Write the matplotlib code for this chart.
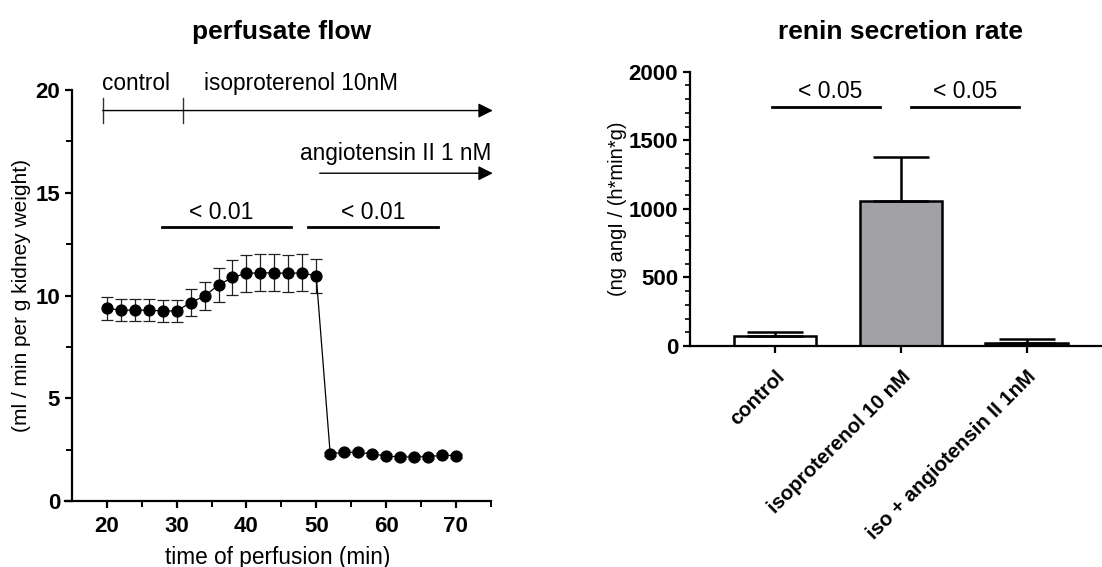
import numpy as np
import matplotlib.pyplot as plt

plt.rcParams['font.family'] = ['Liberation Sans', 'DejaVu Sans']

# perfusate flow time course
time_min = [20, 22, 24, 26, 28, 30, 32, 34, 36, 38, 40, 42, 44, 46, 48, 50,
            52, 54, 56, 58, 60, 62, 64, 66, 68, 70]
flow = [9.38, 9.29, 9.29, 9.29, 9.25, 9.25, 9.65, 9.98, 10.51, 10.88, 11.08, 11.1,
        11.1, 11.08, 11.1, 10.95, 2.30, 2.37, 2.37, 2.29, 2.19, 2.14, 2.14, 2.16,
        2.22, 2.21]
flow_err = [0.55, 0.55, 0.55, 0.55, 0.55, 0.55, 0.65, 0.7, 0.85, 0.85, 0.9, 0.9,
            0.9, 0.9, 0.9, 0.85, 0.1, 0.1, 0.1, 0.1, 0.1, 0.1, 0.1, 0.1, 0.1, 0.1]

# renin secretion rate
groups = ['control', 'isoproterenol 10 nM', 'iso + angiotensin II 1nM']
renin = [75, 1060, 25]
renin_err = [25, 315, 25]
bar_colors = ['white', '#a2a2a6', '#3c3c3c']

fig = plt.figure(figsize=(11.02, 5.67), dpi=100)

# ---- left panel
ax1 = fig.add_axes([65 / 1102, 1 - 501 / 567, 425.7 / 1102, 411 / 567])
ax1.errorbar(time_min, flow, yerr=flow_err, fmt='o-', color='black', ms=7.8,
             lw=0.9, elinewidth=0.9, capsize=4, capthick=0.9, ecolor='#222222')
ax1.set_xlim(14, 75)
ax1.set_ylim(0, 20)
ax1.spines['left'].set_position(('data', 15))
ax1.spines['top'].set_visible(False)
ax1.spines['right'].set_visible(False)
for s in ['left', 'bottom']:
    ax1.spines[s].set_linewidth(1.6)
ax1.set_xticks([20, 30, 40, 50, 60, 70])
ax1.set_xticks([25, 35, 45, 55, 65, 75], minor=True)
ax1.set_yticks([0, 5, 10, 15, 20])
ax1.set_yticks([2.5, 7.5, 12.5, 17.5], minor=True)
ax1.tick_params(which='major', length=5, width=1.6, labelsize=16)
ax1.tick_params(axis='x', pad=6)
ax1.tick_params(which='minor', length=4, width=1.4)
for lab in ax1.get_xticklabels() + ax1.get_yticklabels():
    lab.set_fontweight('bold')
ax1.set_xlabel('time of perfusion (min)', fontsize=16.3, labelpad=6)
ax1.set_ylabel('(ml / min per g kidney weight)', fontsize=15, labelpad=3)
fig.text(281.7 / 1102, 1 - 32 / 567, 'perfusate flow', fontsize=19,
         fontweight='bold', ha='center', va='center')

# treatment timeline
ax1.plot([19.4, 19.4], [18.4, 19.6], color='#333333', lw=1, clip_on=False)
ax1.plot([30.9, 30.9], [18.4, 19.6], color='#333333', lw=1, clip_on=False)
ax1.annotate('', xy=(75.3, 19.0), xytext=(19.4, 19.0),
             arrowprops=dict(arrowstyle='-|>', color='black', lw=1,
                             mutation_scale=22, shrinkA=0, shrinkB=0),
             annotation_clip=False)
ax1.text(19.3, 20.3, 'control', fontsize=16.3, ha='left', va='center')
ax1.text(33.9, 20.3, 'isoproterenol 10nM', fontsize=16.3, ha='left', va='center')
ax1.annotate('', xy=(75.3, 15.95), xytext=(50.5, 15.95),
             arrowprops=dict(arrowstyle='-|>', color='black', lw=1,
                             mutation_scale=22, shrinkA=0, shrinkB=0),
             annotation_clip=False)
ax1.text(75.1, 16.9, 'angiotensin II 1 nM', fontsize=16.3, ha='right', va='center')

# significance
ax1.plot([27.9, 46.4], [13.35, 13.35], color='black', lw=2)
ax1.plot([48.8, 67.4], [13.35, 13.35], color='black', lw=2)
ax1.text(36.4, 14.05, '< 0.01', fontsize=16.5, ha='center', va='center')
ax1.text(58.1, 14.05, '< 0.01', fontsize=16.5, ha='center', va='center')

# ---- right panel
ax2 = fig.add_axes([690 / 1102, 1 - 346 / 567, 412 / 1102, 274.3 / 567])
xpos = np.arange(len(groups))
ax2.bar(xpos, renin, width=0.655, color=bar_colors, edgecolor='black', lw=1.8,
        zorder=2)
ax2.errorbar(xpos, renin, yerr=[np.zeros(3), renin_err], fmt='none',
             ecolor='black', elinewidth=1.8, capsize=20, capthick=1.8, zorder=3)
ax2.set_xlim(-0.675, 2.6)
ax2.set_ylim(0, 2000)
ax2.spines['top'].set_visible(False)
ax2.spines['right'].set_visible(False)
for s in ['left', 'bottom']:
    ax2.spines[s].set_linewidth(1.6)
ax2.set_yticks([0, 500, 1000, 1500, 2000])
ax2.set_yticks(np.arange(100, 2000, 100), minor=True)
ax2.set_xticks(xpos)
ax2.set_xticklabels(groups, rotation=45, ha='right', rotation_mode='anchor',
                    fontsize=14.7, fontweight='bold')
ax2.tick_params(which='major', length=5, width=1.6)
ax2.tick_params(axis='y', which='major', labelsize=16)
ax2.tick_params(axis='x', pad=10)
ax2.tick_params(which='minor', length=3.5, width=1.2)
for lab in ax2.get_yticklabels():
    lab.set_fontweight('bold')
ax2.set_ylabel('(ng angI / (h*min*g)', fontsize=14.5, labelpad=1)
fig.text(900 / 1102, 1 - 32 / 567, 'renin secretion rate', fontsize=19,
         fontweight='bold', ha='center', va='center')

ax2.plot([-0.02, 0.833], [1740, 1740], color='black', lw=2)
ax2.plot([1.085, 1.944], [1740, 1740], color='black', lw=2)
ax2.text(0.44, 1853, '< 0.05', fontsize=16.5, ha='center', va='center')
ax2.text(1.51, 1853, '< 0.05', fontsize=16.5, ha='center', va='center')

fig.savefig('out.png', dpi=100)
